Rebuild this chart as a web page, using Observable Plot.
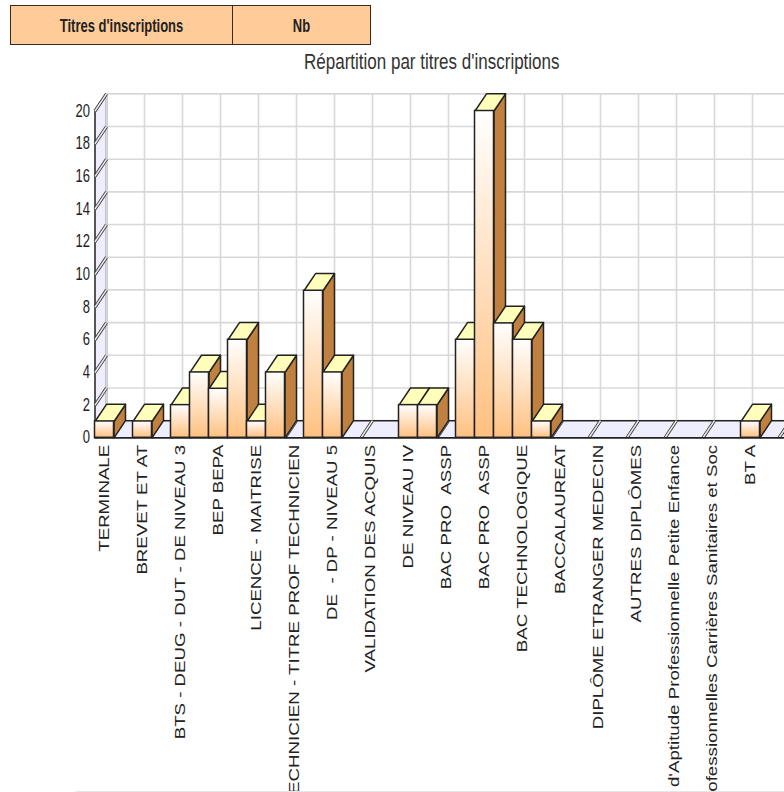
<!DOCTYPE html>
<html><head><meta charset="utf-8">
<script src="https://cdn.jsdelivr.net/npm/d3@7"></script>
<script src="https://cdn.jsdelivr.net/npm/@observablehq/plot@0.6"></script>
<style>
html,body{margin:0;padding:0;background:#fff;overflow:hidden;width:784px;height:792px}
body{font-family:"Liberation Sans",Arial,sans-serif;position:relative}
table{position:absolute;left:10px;top:5px;width:361px;height:40px;border-collapse:collapse;background:#FFCC99;table-layout:fixed}
td{border:1.5px solid #3a2a1a;text-align:center;font-weight:bold;font-size:13px;color:#222;padding:0}
td span{display:inline-block;transform:scaleY(1.35)}
#t{position:absolute;left:0;width:784px;top:50px;text-align:left;font-size:17px;color:#333;height:26px;line-height:24px}
#t span{position:absolute;left:304px;white-space:nowrap;transform:scaleY(1.35);transform-origin:left center}
#c{position:absolute;left:0;top:80px}
</style></head><body>
<table><tr><td style="width:221px"><span>Titres d'inscriptions</span></td><td><span>Nb</span></td></tr></table>
<div id="t"><span>Répartition par titres d'inscriptions</span></div>
<div id="c"></div>
<script>
const labels = ["TERMINALE","BREVET ET AT","BTS - DEUG - DUT - DE NIVEAU 3","BEP BEPA","LICENCE - MAITRISE","TECHNICIEN - TITRE PROF TECHNICIEN","DE \u00a0- DP - NIVEAU 5","VALIDATION DES ACQUIS","DE NIVEAU IV","BAC PRO \u00a0ASSP","BAC PRO \u00a0ASSP","BAC TECHNOLOGIQUE","BACCALAUREAT","DIPLÔME ETRANGER MEDECIN","AUTRES DIPLÔMES","d'Aptitude Professionnelle Petite Enfance","Professionnelles Carrières Sanitaires et Soc","BT A"];
const counts = [1,0,1,0,2,4,3,6,1,4,0,9,4,0,0,0,2,2,0,6,20,7,6,1,0,0,0,0,0,0,0,0,0,0,1,0];
const yTicks = [0,2,4,6,8,10,12,14,16,18,20];
const gridX = [0,2,4,6,8,10,12,14,16,18,20,22,24,26,28,30,32,34,36];
const depthX = 0.605, depthY = 1.05;

const bars = counts.map((v,i)=>({i,v})).filter(d=>d.v>0);
const poly = (id,pts)=>pts.map(([x,y])=>({id,x,y}));
const sides = bars.flatMap(({i,v})=>poly(i,[[i+1,0],[i+1+depthX,depthY],[i+1+depthX,v+depthY],[i+1,v],[i+1,0]]));
const tops = bars.flatMap(({i,v})=>poly(i,[[i,v],[i+depthX,v+depthY],[i+1+depthX,v+depthY],[i+1,v],[i,v]]));
const wall = poly("w",[[0,0],[depthX,depthY],[depthX,20+depthY],[0,20],[0,0]]);
const floor = poly("f",[[0,0],[depthX,depthY],[38,depthY],[38,0],[0,0]]);

const defs = () => {
  const s = d3.create("svg:defs");
  const g = s.append("linearGradient").attr("id","bar").attr("x1",0).attr("y1",0).attr("x2",0).attr("y2",1);
  g.append("stop").attr("offset","0%").attr("stop-color","#FFFFFF");
  g.append("stop").attr("offset","100%").attr("stop-color","#FFC080");
  return s.node();
};
const lineOpts = {x:"x",y:"y",z:"id",curve:"linear",strokeWidth:1.5};

const chart = Plot.plot({
  width:784,height:712,
  marginLeft:94.5,marginRight:5.5,marginTop:30.5,marginBottom:354.7,
  style:{background:"#fff",overflow:"hidden",fontFamily:"'Liberation Sans',Arial,sans-serif"},
  x:{domain:[0,36],axis:null},
  y:{domain:[0,20],axis:null},
  marks:[
    defs,
    Plot.line(wall,{...lineOpts,fill:"#EEEEFF",stroke:"#222"}),
    Plot.line(floor,{...lineOpts,fill:"#EEEEFF",stroke:"#222"}),
    Plot.ruleY(yTicks,{y:d=>d+depthY,x1:()=>depthX,x2:()=>38,stroke:"#d8d8d8",strokeWidth:1.6}),
    Plot.ruleX(gridX,{x:d=>d+depthX,y1:()=>depthY,y2:()=>20+depthY,stroke:"#d8d8d8",strokeWidth:1.6}),
    Plot.ruleY([depthY],{x1:()=>depthX,x2:()=>38,stroke:"#222",strokeWidth:1.4}),
    Plot.link(gridX,{x1:d=>d,x2:d=>d+depthX,y1:()=>0,y2:()=>depthY,stroke:"#333",strokeWidth:3.2}),
    Plot.link(gridX,{x1:d=>d,x2:d=>d+depthX,y1:()=>0,y2:()=>depthY,stroke:"#e8e8e8",strokeWidth:1.6}),
    Plot.link(yTicks,{x1:()=>0,x2:()=>depthX,y1:d=>d,y2:d=>d+depthY,stroke:"#333",strokeWidth:3.2}),
    Plot.link(yTicks,{x1:()=>0,x2:()=>depthX,y1:d=>d,y2:d=>d+depthY,stroke:"#e8e8e8",strokeWidth:1.6}),
    Plot.line(sides,{...lineOpts,fill:"#C08040",stroke:"#222"}),
    Plot.line(tops,{...lineOpts,fill:"#FFFFBB",stroke:"#222"}),
    Plot.rect(bars,{x1:"i",x2:d=>d.i+1,y1:()=>0,y2:"v",fill:"url(#bar)",stroke:"#222",strokeWidth:1.5}),
    Plot.ruleY([0],{x1:()=>0,x2:()=>38,stroke:"#222",strokeWidth:1.6}),
    Plot.axisY(yTicks,{anchor:"left",tickSize:0,tickPadding:5,label:null,fontSize:13,fill:"#222"}),
    Plot.text(labels,{x:(d,i)=>2*i+0.5,y:()=>0,text:d=>d,rotate:-90,textAnchor:"end",dy:7,dx:-0.5,fontSize:14.5,fill:"#222",lineAnchor:"middle"}),
    Plot.ruleY([0],{x1:()=>-1,x2:()=>38,dy:354,stroke:"#e6e6e6",strokeWidth:1.5})
  ]
});
// the reference is stretched vertically: apply the same stretch to the text
d3.select(chart).selectAll("text").each(function(){
  const t=d3.select(this), tr=t.attr("transform")||"";
  if(tr.includes("rotate")) t.attr("transform",tr+" scale(1.29,1)");
  else {
    const x=+t.attr("x")||0,y=+t.attr("y")||0;
    t.attr("transform",`${tr} translate(${x},${y}) scale(1,1.35) translate(${-x},${-y})`);
  }
});
document.getElementById("c").appendChild(chart);
</script>
</body></html>
